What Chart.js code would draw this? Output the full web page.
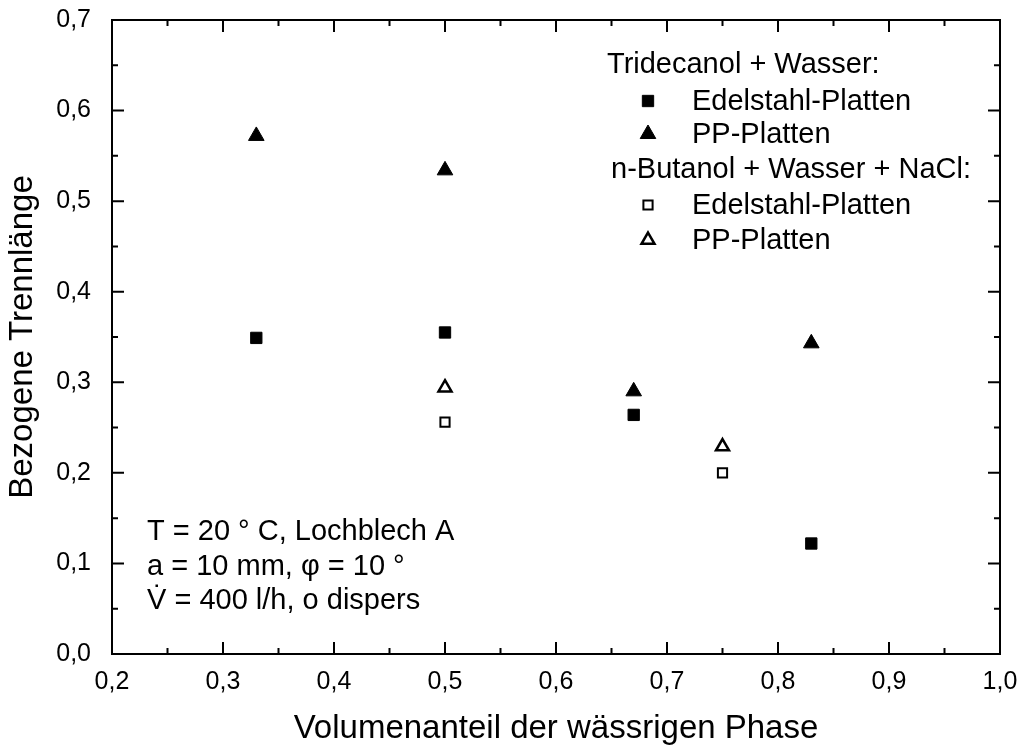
<!DOCTYPE html>
<html lang="de">
<head>
<meta charset="utf-8">
<title>Bezogene Trennlänge</title>
<script src="https://cdn.jsdelivr.net/npm/chart.js@4"></script>
<style>
  html, body { margin: 0; padding: 0; background: #fff; }
  #wrap { width: 1018px; height: 749px; }
</style>
</head>
<body>
<div id="wrap"><canvas id="myChart" width="1018" height="749"></canvas></div>
<script>
'use strict';
// data
const xTridecanol = [0.33, 0.5, 0.67, 0.83];
const yTriEdelstahl = [0.349, 0.355, 0.264, 0.122];
const yTriPP = [0.572, 0.534, 0.29, 0.343];

const xButanol = [0.5, 0.75];
const yButEdelstahl = [0.256, 0.2];
const yButPP = [0.294, 0.229];

// axis ranges + ticks
const xMin = 0.2, xMax = 1.0, xStep = 0.1;
const yMin = 0.0, yMax = 0.7, yStep = 0.1;

// texts
const xTitle = 'Volumenanteil der wässrigen Phase';
const yTitle = 'Bezogene Trennlänge';
const groupTridecanol = 'Tridecanol + Wasser:';
const groupButanol = 'n-Butanol + Wasser + NaCl:';
const labelEdelstahl = 'Edelstahl-Platten';
const labelPP = 'PP-Platten';
const noteLines = ['T = 20 ° C, Lochblech A', 'a = 10 mm, φ = 10 °', 'V\u0307 = 400 l/h, o dispers'];

const FONT = "'Liberation Sans', Arial, Helvetica, sans-serif";
Chart.defaults.font.family = FONT;
Chart.defaults.color = '#000';

function toPoints(xs, ys) {
  const pts = [];
  for (let i = 0; i < xs.length; i++) {
    pts.push({ x: xs[i], y: ys[i] });
  }
  return pts;
}

function commaLabel(value) {
  return value.toFixed(1).replace('.', ',');
}

const datasets = [
  {
    label: groupTridecanol + ' ' + labelEdelstahl,
    data: toPoints(xTridecanol, yTriEdelstahl),
    pointStyle: 'rect', pointRadius: 8,
    backgroundColor: '#000', borderColor: '#000', borderWidth: 1,
  },
  {
    label: groupTridecanol + ' ' + labelPP,
    data: toPoints(xTridecanol, yTriPP),
    pointStyle: 'triangle', pointRadius: 9,
    backgroundColor: '#000', borderColor: '#000', borderWidth: 1,
  },
  {
    label: groupButanol + ' ' + labelEdelstahl,
    data: toPoints(xButanol, yButEdelstahl),
    pointStyle: 'rect', pointRadius: 6.5,
    backgroundColor: '#fff', borderColor: '#000', borderWidth: 2,
  },
  {
    label: groupButanol + ' ' + labelPP,
    data: toPoints(xButanol, yButPP),
    pointStyle: 'triangle', pointRadius: 7.5,
    backgroundColor: '#fff', borderColor: '#000', borderWidth: 2.5,
  },
];

// box round the plot + inward ticks on all four sides
const frameTicks = {
  id: 'frameTicks',
  afterDraw(chart) {
    const { ctx, chartArea: a, scales: { x, y } } = chart;
    ctx.save();
    ctx.strokeStyle = '#000';
    ctx.lineWidth = 2;
    ctx.strokeRect(a.left, a.top, a.right - a.left, a.bottom - a.top);
    ctx.beginPath();
    const nx = Math.round((xMax - xMin) / (xStep / 2));
    for (let i = 1; i < nx; i++) {
      const px = x.getPixelForValue(xMin + i * xStep / 2);
      const len = i % 2 === 0 ? 12 : 6;
      ctx.moveTo(px, a.bottom); ctx.lineTo(px, a.bottom - len);
      ctx.moveTo(px, a.top); ctx.lineTo(px, a.top + len);
    }
    const ny = Math.round((yMax - yMin) / (yStep / 2));
    for (let i = 1; i < ny; i++) {
      const py = y.getPixelForValue(yMin + i * yStep / 2);
      const len = i % 2 === 0 ? 12 : 6;
      ctx.moveTo(a.left, py); ctx.lineTo(a.left + len, py);
      ctx.moveTo(a.right, py); ctx.lineTo(a.right - len, py);
    }
    ctx.stroke();
    ctx.restore();
  },
};

function drawMarker(ctx, ds, cx, cy) {
  ctx.fillStyle = ds.backgroundColor;
  ctx.strokeStyle = ds.borderColor;
  ctx.lineWidth = ds.borderWidth;
  Chart.helpers.drawPoint(ctx, {
    pointStyle: ds.pointStyle, radius: ds.pointRadius,
    rotation: 0, borderWidth: ds.borderWidth,
  }, cx, cy);
}

// grouped legend + note text
const notes = {
  id: 'notes',
  afterDraw(chart) {
    const ctx = chart.ctx;
    const ds = chart.data.datasets;
    ctx.save();
    ctx.font = '29px ' + FONT;
    ctx.textBaseline = 'alphabetic';
    ctx.textAlign = 'left';

    const rows = [
      { text: groupTridecanol, x: 607, base: 73 },
      { text: labelEdelstahl, x: 692, base: 110, ds: ds[0] },
      { text: labelPP, x: 692, base: 143, ds: ds[1] },
      { text: groupButanol, x: 611, base: 178 },
      { text: labelEdelstahl, x: 692, base: 214, ds: ds[2] },
      { text: labelPP, x: 692, base: 249, ds: ds[3] },
    ];
    rows.forEach(function (r) {
      ctx.fillStyle = '#000';
      ctx.fillText(r.text, r.x, r.base);
      if (r.ds) {
        drawMarker(ctx, r.ds, 648, r.base - 9);
      }
    });

    ctx.fillStyle = '#000';
    const noteBase = [540, 575, 609];
    for (let i = 0; i < noteLines.length; i++) {
      ctx.fillText(noteLines[i], 147, noteBase[i]);
    }
    ctx.restore();
  },
};

const ctx = document.getElementById('myChart').getContext('2d');
new Chart(ctx, {
  type: 'scatter',
  data: { datasets: datasets },
  options: {
    responsive: false,
    animation: false,
    layout: { padding: { top: 20, right: 18, left: 0, bottom: 0 } },
    plugins: {
      legend: { display: false },
      tooltip: { enabled: false },
    },
    scales: {
      x: {
        type: 'linear',
        min: xMin, max: xMax,
        grid: { display: false },
        border: { display: false },
        ticks: {
          stepSize: xStep,
          padding: 5,
          font: { size: 25 },
          color: '#000',
          callback: commaLabel,
        },
        title: {
          display: true,
          text: xTitle,
          font: { size: 33 },
          color: '#000',
          padding: { top: 0, bottom: 0 },
        },
        afterFit(scale) {
          scale.height = 95;
          scale.paddingLeft = 0;
          scale.paddingRight = 0;
        },
      },
      y: {
        type: 'linear',
        min: yMin, max: yMax,
        grid: { display: false },
        border: { display: false },
        ticks: {
          stepSize: yStep,
          padding: 13,
          font: { size: 25 },
          color: '#000',
          callback: commaLabel,
        },
        title: {
          display: true,
          text: yTitle,
          font: { size: 33 },
          color: '#000',
          padding: { top: 3, bottom: 0 },
        },
        afterFit(scale) {
          scale.width = 112;
          scale.paddingTop = 0;
          scale.paddingBottom = 0;
        },
      },
    },
  },
  plugins: [frameTicks, notes],
});
</script>
</body>
</html>
